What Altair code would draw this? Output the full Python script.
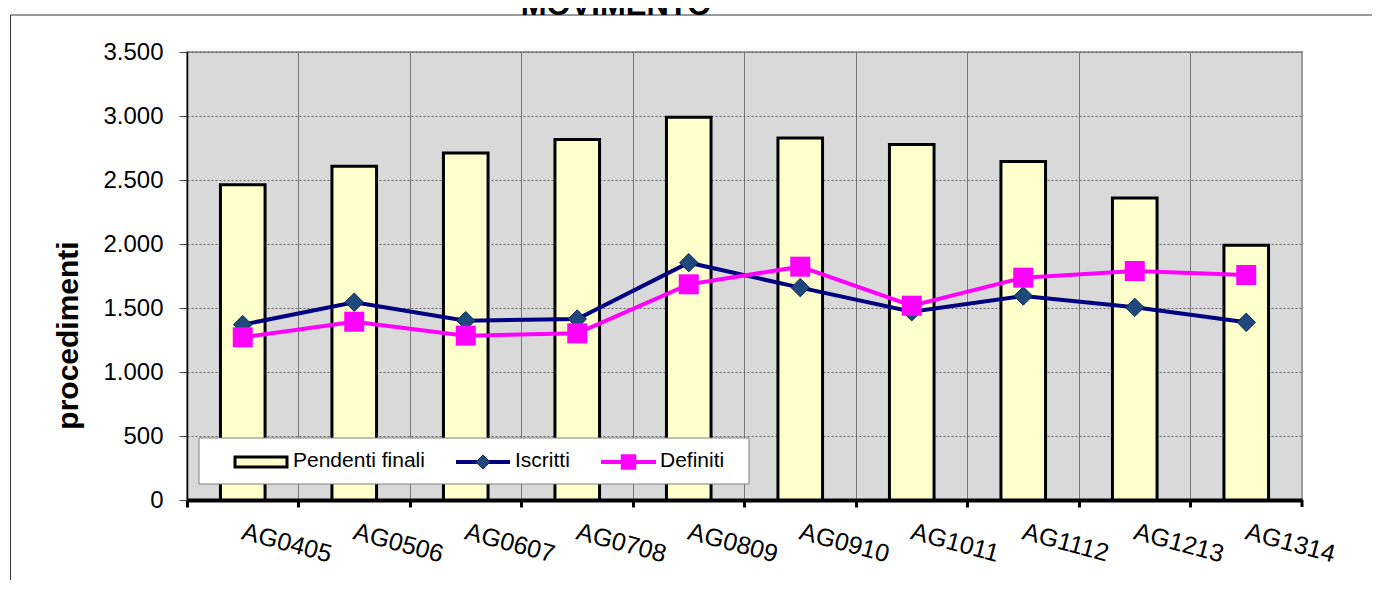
import altair as alt
import pandas as pd

# ---- data ----
categories = ["AG0405", "AG0506", "AG0607", "AG0708", "AG0809",
              "AG0910", "AG1011", "AG1112", "AG1213", "AG1314"]
pendenti = [2463, 2607, 2711, 2816, 2990, 2828, 2777, 2644, 2359, 1990]
iscritti = [1370, 1545, 1401, 1414, 1854, 1659, 1471, 1594, 1505, 1388]
definiti = [1271, 1393, 1284, 1302, 1685, 1823, 1518, 1737, 1789, 1758]
y_ticks = [0, 500, 1000, 1500, 2000, 2500, 3000, 3500]
series_names = ["Pendenti finali", "Iscritti", "Definiti"]
chart_title = "MOVIMENTO"
y_title = "procedimenti"

FONT = "Liberation Sans"
W, H = 1115, 448

df = pd.DataFrame({"cat": categories, "pend": pendenti,
                   "isc": iscritti, "defi": definiti})

x_enc = alt.X(
    "cat:N", sort=categories, title=None,
    scale=alt.Scale(paddingInner=0, paddingOuter=0),
    axis=alt.Axis(
        bandPosition=0, labelOffset=3, labelAngle=15, labelAlign="left",
        labelBaseline="top", labelPadding=12, labelFontSize=25,
        labelFont=FONT, labelColor="black", labelOverlap=False,
        domainColor="black", domainWidth=4, tickColor="black",
        tickWidth=3, tickSize=7, grid=True, gridColor="#777777",
        gridWidth=1, gridDash=[]),
)

def y_enc(field):
    return alt.Y(
        f"{field}:Q",
        scale=alt.Scale(domain=[0, 3500], nice=False),
        axis=alt.Axis(
            values=y_ticks,
            labelExpr="replace(format(datum.value, ','), ',', '.')",
            labelFontSize=24, labelFont=FONT, labelColor="black",
            labelPadding=16, tickSize=8, tickColor="#444444", tickWidth=1,
            domainColor="black", domainWidth=1.5,
            grid=True, gridColor="#666666", gridDash=[2, 2], gridWidth=1,
            title=y_title, titleFont=FONT, titleFontSize=30,
            titleFontWeight="bold", titleColor="black",
            titleX=-119, titleY=283, titleBaseline="middle",
            titleAlign="center", titleAngle=270),
    )

base = alt.Chart(df)
bars = base.mark_bar(width=alt.RelativeBandSize(0.4), fill="#ffffcc",
                     stroke="black", strokeWidth=3).encode(x=x_enc, y=y_enc("pend"))
isc_line = base.mark_line(color="#000080", strokeWidth=4).encode(x=x_enc, y=y_enc("isc"))
isc_pts = base.mark_point(shape="diamond", filled=True, size=340, fill="#1f497d",
                          stroke="#0d2a55", strokeWidth=1, opacity=1).encode(x=x_enc, y=y_enc("isc"))
def_line = base.mark_line(color="#ff00ff", strokeWidth=4).encode(x=x_enc, y=y_enc("defi"))
def_pts = base.mark_point(shape="square", filled=True, size=400, fill="#ff00ff",
                          opacity=1).encode(x=x_enc, y=y_enc("defi"))

# ---- decorations (outer frame: top and left edges, title, end tick) ----
one = pd.DataFrame({"t": [chart_title]})
frame_top = alt.Chart(one).mark_rule(color="#333333", strokeWidth=1).encode(
    x=alt.value(-176.5), x2=alt.value(W + 70), y=alt.value(-37))
frame_left = alt.Chart(one).mark_rule(color="#333333", strokeWidth=1).encode(
    x=alt.value(-176.5), y=alt.value(-37), y2=alt.value(H + 80))
end_tick = alt.Chart(one).mark_rule(color="black", strokeWidth=3).encode(
    x=alt.value(W), y=alt.value(H), y2=alt.value(H + 7))
title = alt.Chart(one).mark_text(font=FONT, fontSize=31, fontWeight="bold",
                                 align="center", baseline="alphabetic",
                                 color="black").encode(
    text="t:N", x=alt.value(429), y=alt.value(-37))

# ---- manual legend ----
leg_y = 410
legend_box = alt.Chart(one).mark_rect(fill="white", stroke="#808080", strokeWidth=1).encode(
    x=alt.value(12), x2=alt.value(562), y=alt.value(386), y2=alt.value(432))
leg_swatch = alt.Chart(one).mark_rect(fill="#ffffcc", stroke="black", strokeWidth=3).encode(
    x=alt.value(48), x2=alt.value(100), y=alt.value(leg_y - 5), y2=alt.value(leg_y + 5))
leg_isc_line = alt.Chart(one).mark_rule(color="#000080", strokeWidth=4).encode(
    x=alt.value(269), x2=alt.value(323), y=alt.value(leg_y))
leg_isc_pt = alt.Chart(one).mark_point(shape="diamond", filled=True, size=200, fill="#1f497d",
                                       stroke="#0d2a55", strokeWidth=1, opacity=1).encode(
    x=alt.value(296), y=alt.value(leg_y))
leg_def_line = alt.Chart(one).mark_rule(color="#ff00ff", strokeWidth=4).encode(
    x=alt.value(414), x2=alt.value(469), y=alt.value(leg_y))
leg_def_pt = alt.Chart(one).mark_point(shape="square", filled=True, size=240, fill="#ff00ff",
                                       opacity=1).encode(x=alt.value(441.5), y=alt.value(leg_y))
leg_df = pd.DataFrame({"name": series_names, "lx": [106, 328, 473]})
leg_text = alt.Chart(leg_df).mark_text(font=FONT, fontSize=21, align="left",
                                       baseline="middle", color="black").encode(
    text="name:N", x=alt.X("lx:Q", scale=None), y=alt.value(leg_y - 1))

chart = alt.layer(
    bars, isc_line, isc_pts, def_line, def_pts,
    legend_box, leg_swatch, leg_isc_line, leg_isc_pt, leg_def_line, leg_def_pt, leg_text,
    frame_top, frame_left, end_tick, title,
).properties(
    width=W, height=H,
    background="white",
    autosize=alt.AutoSizeParams(type="none"),
    padding={"left": 179, "top": 44, "right": 70, "bottom": 80},
).configure_view(
    fill="#d9d9d9", stroke="#9a9a9a", strokeWidth=2
)

chart.save("out.html", embed_options={"renderer": "svg", "actions": False})
